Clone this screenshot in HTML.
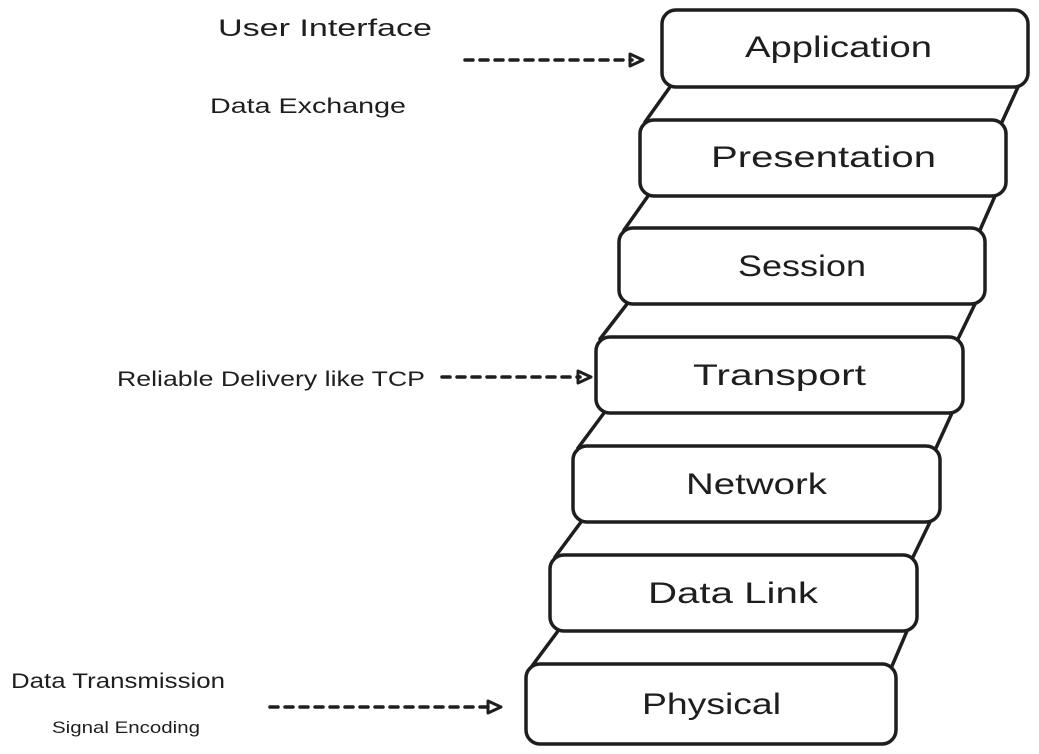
<!DOCTYPE html>
<html><head><meta charset="utf-8"><style>
html,body{margin:0;padding:0;background:#fff;width:1039px;height:754px;overflow:hidden}
svg{display:block}
text{font-family:"Liberation Sans",sans-serif;fill:#1e1e1e}
</style></head><body>
<svg width="1039" height="754" viewBox="0 0 1039 754">
<g stroke="#1e1e1e" stroke-width="3.5" fill="none" stroke-linecap="round">
<line x1="670" y1="87" x2="645" y2="122"/><line x1="1018" y1="87" x2="1002" y2="122"/>
<line x1="648" y1="196" x2="624" y2="230"/><line x1="995" y1="196" x2="980" y2="230"/>
<line x1="627" y1="304" x2="600" y2="339"/><line x1="975" y1="304" x2="958" y2="339"/>
<line x1="604" y1="413" x2="578" y2="448"/><line x1="952" y1="413" x2="936" y2="448"/>
<line x1="581" y1="522" x2="555" y2="557"/><line x1="930" y1="522" x2="913" y2="557"/>
<line x1="558" y1="631" x2="532" y2="666"/><line x1="907" y1="631" x2="892" y2="666"/>
<rect x="662" y="10" width="366" height="77" rx="14" fill="#fff"/>
<rect x="640" y="120" width="366" height="76" rx="14" fill="#fff"/>
<rect x="619" y="228" width="366" height="76" rx="14" fill="#fff"/>
<rect x="596" y="337" width="367" height="76" rx="14" fill="#fff"/>
<rect x="573" y="446" width="367" height="76" rx="14" fill="#fff"/>
<rect x="550" y="555" width="367" height="76" rx="14" fill="#fff"/>
<rect x="526" y="664" width="370" height="80" rx="14" fill="#fff"/>
<g stroke-dasharray="8 7"><line x1="465" y1="60" x2="632" y2="60"/>
<line x1="442" y1="377" x2="580" y2="377"/>
<line x1="270" y1="707" x2="488" y2="707"/></g>
<path d="M630 54 L643 60 L630 66 Z M578 371 L591 377 L578 383 Z M488 701 L501 707 L488 713 Z" stroke-width="3" stroke-linejoin="round"/>
</g>
<g font-size="30" lengthAdjust="spacingAndGlyphs">
<text x="745" y="57" textLength="187" lengthAdjust="spacingAndGlyphs">Application</text>
<text x="711" y="167" textLength="225" lengthAdjust="spacingAndGlyphs">Presentation</text>
<text x="738" y="276" textLength="128" lengthAdjust="spacingAndGlyphs">Session</text>
<text x="693" y="385" textLength="173" lengthAdjust="spacingAndGlyphs">Transport</text>
<text x="686" y="494" textLength="141" lengthAdjust="spacingAndGlyphs">Network</text>
<text x="648" y="603" textLength="170" lengthAdjust="spacingAndGlyphs">Data Link</text>
<text x="642" y="714" textLength="139" lengthAdjust="spacingAndGlyphs">Physical</text>
</g>
<text x="218" y="36" font-size="24" textLength="214" lengthAdjust="spacingAndGlyphs">User Interface</text>
<text x="210" y="113" font-size="21" textLength="196" lengthAdjust="spacingAndGlyphs">Data Exchange</text>
<text x="117" y="386" font-size="21" textLength="308" lengthAdjust="spacingAndGlyphs">Reliable Delivery like TCP</text>
<text x="11" y="688" font-size="21" textLength="214" lengthAdjust="spacingAndGlyphs">Data Transmission</text>
<text x="52" y="733" font-size="17" textLength="148" lengthAdjust="spacingAndGlyphs">Signal Encoding</text>
</svg>
</body></html>
